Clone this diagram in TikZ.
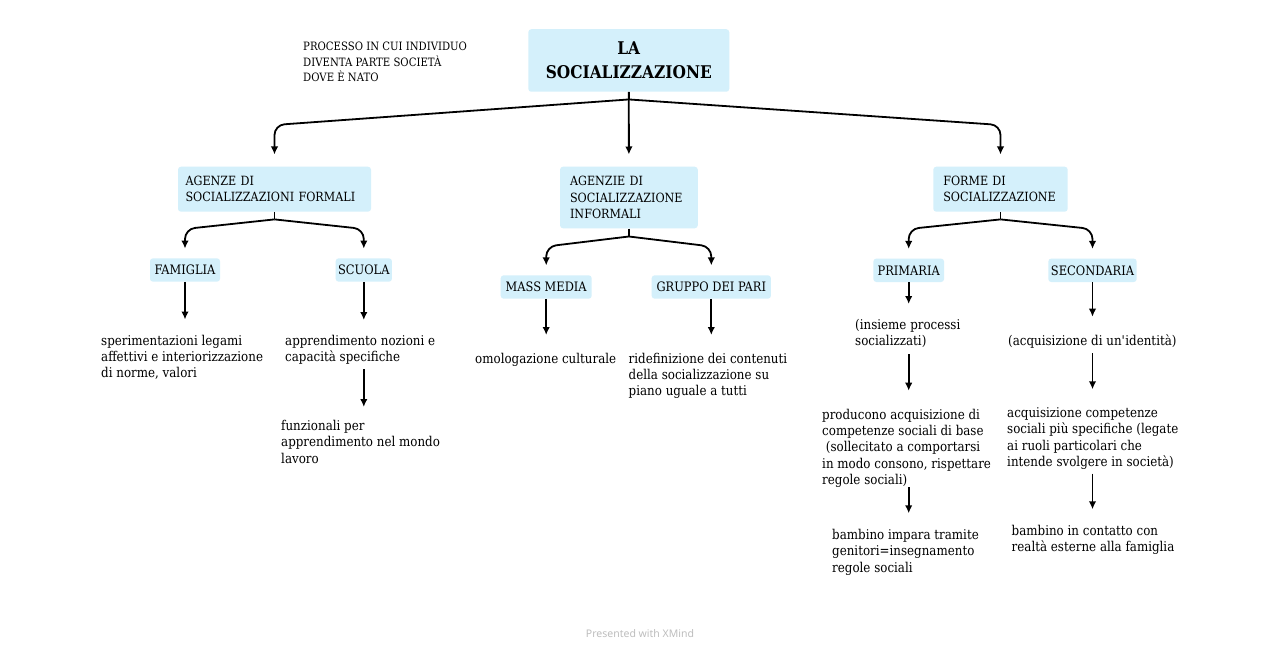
\documentclass[tikz,border=0pt]{standalone}
\usepackage{fontspec}
\setmainfont{DejaVu Serif}[FakeStretch=0.88]
\newfontfamily\xmfont{Noto Sans}
\usetikzlibrary{arrows.meta}
\definecolor{boxblue}{RGB}{212,240,251}
\definecolor{xmgray}{RGB}{190,190,190}
\begin{document}
\begin{tikzpicture}[x=1pt,y=-1pt,
  box/.style={fill=boxblue, rounded corners=3pt, inner sep=0pt},
  l1box/.style={box, font=\fontsize{12.7}{16.2}\selectfont, align=left, inner xsep=10pt},
  l2box/.style={box, font=\fontsize{13}{14}\selectfont, minimum height=23.4pt},
  txt/.style={anchor=north west, inner sep=0pt, align=left, font=\fontsize{13.5}{16.3}\selectfont},
  conn/.style={line width=1.8pt, rounded corners=10pt},
  arr/.style={conn, -{Latex[length=8pt,width=7.5pt]}}]
\fill[white] (0,0) rectangle (1280,650);
\useasboundingbox (0,0) rectangle (1280,650);

% root and note
\node[box, minimum width=201pt, minimum height=62.5pt, align=center,
      font=\bfseries\fontsize{17.5}{24}\selectfont] (root) at (628.8,60.5) {LA\\SOCIALIZZAZIONE};
\node[anchor=north west, inner sep=0pt, align=left, font=\fontsize{11.5}{15}\selectfont]
  (note) at (303,40) {\strut PROCESSO IN CUI INDIVIDUO\\DIVENTA PARTE SOCIETÀ\\DOVE È NATO};

% level 1
\node[l1box, text width=178pt, inner xsep=7.5pt, minimum height=45pt] (l1a) at (274.5,189.2) {AGENZE DI\\\mbox{SOCIALIZZAZIONI FORMALI}};
\node[l1box, text width=117.7pt, minimum height=61.6pt] (l1b) at (628.9,197.5) {AGENZIE DI\\\mbox{SOCIALIZZAZIONE}\\INFORMALI};
\node[l1box, text width=114.4pt, minimum height=45pt] (l1c) at (1000.5,189.2) {FORME DI\\\mbox{SOCIALIZZAZIONE}};

% level 2
\node[l2box, minimum width=70pt] (fam) at (185,270) {FAMIGLIA};
\node[l2box, minimum width=56.3pt] (sc) at (363.8,270) {SCUOLA};
\node[l2box, minimum width=91pt] (mm) at (546.2,287) {MASS MEDIA};
\node[l2box, minimum width=119.3pt] (gp) at (711.3,287) {GRUPPO DEI PARI};
\node[l2box, minimum width=70.7pt] (pr) at (908.7,270.3) {PRIMARIA};
\node[l2box, minimum width=88.4pt] (se) at (1092.5,270.3) {SECONDARIA};

% leaf texts
\node[txt] (tfam) at (101,333.5) {\strut sperimentazioni legami\\affettivi e interiorizzazione\\di norme, valori\strut};
\node[txt] (tsc) at (285,333.5) {\strut apprendimento nozioni e\\capacità specifiche\strut};
\node[txt] (tsc2) at (281,419) {\strut funzionali per\\apprendimento nel mondo\\lavoro\strut};
\node[txt] (tmm) at (475,351.5) {\strut omologazione culturale\strut};
\node[txt] (tgp) at (628.5,351.5) {\strut ridefinizione dei contenuti\\della socializzazione su\\piano uguale a tutti\strut};
\node[txt] (tpr1) at (855,318) {\strut (insieme processi\\socializzati)\strut};
\node[txt] (tpr2) at (822,407.5) {\strut producono acquisizione di\\competenze sociali di base\\\ (sollecitato a comportarsi\\in modo consono, rispettare\\regole sociali)\strut};
\node[txt] (tpr3) at (832,528) {\strut bambino impara tramite\\genitori=insegnamento\\regole sociali\strut};
\node[txt] (tse1) at (1008,334) {\strut (acquisizione di un\textquotesingle identità)\strut};
\node[txt] (tse2) at (1007,406) {\strut acquisizione competenze\\sociali più specifiche (legate\\ai ruoli particolari che\\intende svolgere in società)\strut};
\node[txt] (tse3) at (1011.5,524) {\strut bambino in contatto con\\realtà esterne alla famiglia\strut};

% connectors root
\coordinate (j0) at ([yshift=-7.5pt]root.south);
\draw[conn] (root.south) -- (j0);
\draw[arr, shorten >=12pt] (j0) -- (l1a.north |- 0,125) -- (l1a.north);
\draw[arr, shorten >=12pt] (root.south) -- (l1b.north);
\draw[arr, shorten >=12pt] (j0) -- (l1c.north |- 0,125) -- (l1c.north);

% connectors level 1
\coordinate (ja) at ([yshift=-7.5pt]l1a.south);
\draw[conn] (l1a.south) -- (ja);
\draw[arr, shorten >=9.5pt] (ja) -- (fam.north |- 0,229) -- (fam.north);
\draw[arr, shorten >=9.5pt] (ja) -- (sc.north |- 0,229) -- (sc.north);
\coordinate (jb) at ([yshift=-8pt]l1b.south);
\draw[conn] (l1b.south) -- (jb);
\draw[arr, shorten >=9.7pt] (jb) -- (mm.north |- 0,246.5) -- (mm.north);
\draw[arr, shorten >=9.7pt] (jb) -- (gp.north |- 0,246.5) -- (gp.north);
\coordinate (jc) at ([yshift=-7.5pt]l1c.south);
\draw[conn] (l1c.south) -- (jc);
\draw[arr, shorten >=9.5pt] (jc) -- (pr.north |- 0,229) -- (pr.north);
\draw[arr, shorten >=9.5pt] (jc) -- (se.north |- 0,229) -- (se.north);

% leaf arrows
\draw[arr, shorten >=14pt] (fam.south) -- (fam.south |- tfam.north);
\draw[arr, shorten >=13.5pt] (sc.south) -- (sc.south |- tsc.north);
\draw[arr, shorten <=2.9pt, shorten >=12pt] (sc.south |- tsc.south) -- (sc.south |- tsc2.north);
\draw[arr, shorten >=16.5pt] (mm.south) -- (mm.south |- tmm.north);
\draw[arr, shorten >=16.5pt] (gp.south) -- (gp.south |- tgp.north);
\draw[arr, shorten >=14pt] (pr.south) -- (pr.south |- tpr1.north);
\draw[arr, shorten <=3.3pt, shorten >=16.8pt] (pr.south |- tpr1.south) -- (pr.south |- tpr2.north);
\draw[arr, shorten <=-2.3pt, shorten >=14.7pt] (pr.south |- tpr2.south) -- (pr.south |- tpr3.north);
\draw[arr, shorten >=17.3pt] (se.south) -- (se.south |- tse1.north);
\draw[arr, shorten <=2.4pt, shorten >=16.7pt] (se.south |- tse1.south) -- (se.south |- tse2.north);
\draw[arr, shorten <=2.1pt, shorten >=14.7pt] (se.south |- tse2.south) -- (se.south |- tse3.north);

% footer
\node[font=\xmfont\bfseries\fontsize{10.5}{12}\selectfont, text=xmgray, inner sep=0pt] (foot) at (640,634) {Presented with XMind};
\end{tikzpicture}
\end{document}
